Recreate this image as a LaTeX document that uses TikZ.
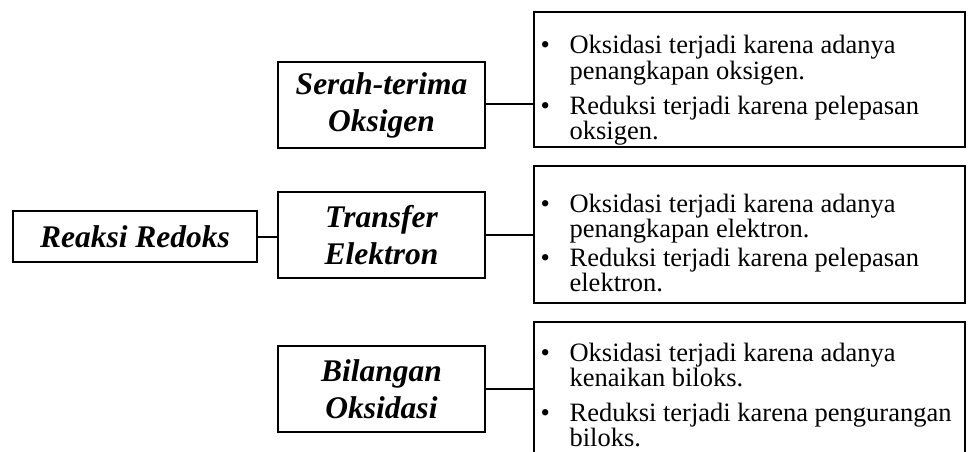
\documentclass[tikz,border=0pt]{standalone}
\usepackage{fontspec}
\setmainfont{Liberation Serif}
\begin{document}
\begin{tikzpicture}[x=1pt,y=-1pt,
  titlebox/.style={draw, line width=2.4pt, inner sep=0pt, align=center,
    font=\fontsize{31.5}{37}\selectfont\bfseries\itshape},
  infobox/.style={draw, line width=2.4pt, inner sep=0pt, minimum width=431pt},
  infotext/.style={anchor=base west, inner sep=0pt,
    font=\fontsize{26.5}{24}\selectfont},
  link/.style={line width=2pt}]
\useasboundingbox (0,0) rectangle (971,452);
\clip (0,0) rectangle (971,452);
\node[titlebox, minimum width=244pt, minimum height=51pt] (reaksi) at (135,236.5) {Reaksi Redoks};
\node[titlebox, minimum width=207pt, minimum height=86pt] (serah) at (381.5,105) {Serah-terima\\Oksigen};
\node[titlebox, minimum width=207pt, minimum height=86pt] (transfer) at (381.5,235) {Transfer\\Elektron};
\node[titlebox, minimum width=207pt, minimum height=86pt] (bilangan) at (381.5,389) {Bilangan\\Oksidasi};
\node[infobox, minimum height=135pt] (topbox) at (749.5,79.5) {};
\node[infobox, minimum height=137pt] (midbox) at (749.5,234.5) {};
\node[infobox, minimum height=160pt] (botbox) at (749.5,402) {};
\node[infotext] (toptext) at (540.4,54) {\begin{tabular}[t]{@{}p{29pt}@{}l@{}}
\textbullet & Oksidasi terjadi karena adanya\\
 & penangkapan oksigen.\\[9pt]
\textbullet & Reduksi terjadi karena pelepasan\\
 & oksigen.
\end{tabular}};
\node[infotext] (midtext) at (540.4,212) {\begin{tabular}[t]{@{}p{29pt}@{}l@{}}
\textbullet & Oksidasi terjadi karena adanya\\
 & penangkapan elektron.\\[3pt]
\textbullet & Reduksi terjadi karena pelepasan\\
 & elektron.
\end{tabular}};
\node[infotext] (bottext) at (540.4,361) {\begin{tabular}[t]{@{}p{29pt}@{}l@{}}
\textbullet & Oksidasi terjadi karena adanya\\
 & kenaikan biloks.\\[9pt]
\textbullet & Reduksi terjadi karena pengurangan\\
 & biloks.
\end{tabular}};
\draw[link] (reaksi.east) -- (reaksi.east -| transfer.west);
\draw[link] ([yshift=1pt]serah.east) -- ([yshift=1pt]serah.east -| topbox.west);
\draw[link] (transfer.east) -- (transfer.east -| midbox.west);
\draw[link] (bilangan.east) -- (bilangan.east -| botbox.west);
\end{tikzpicture}
\end{document}
